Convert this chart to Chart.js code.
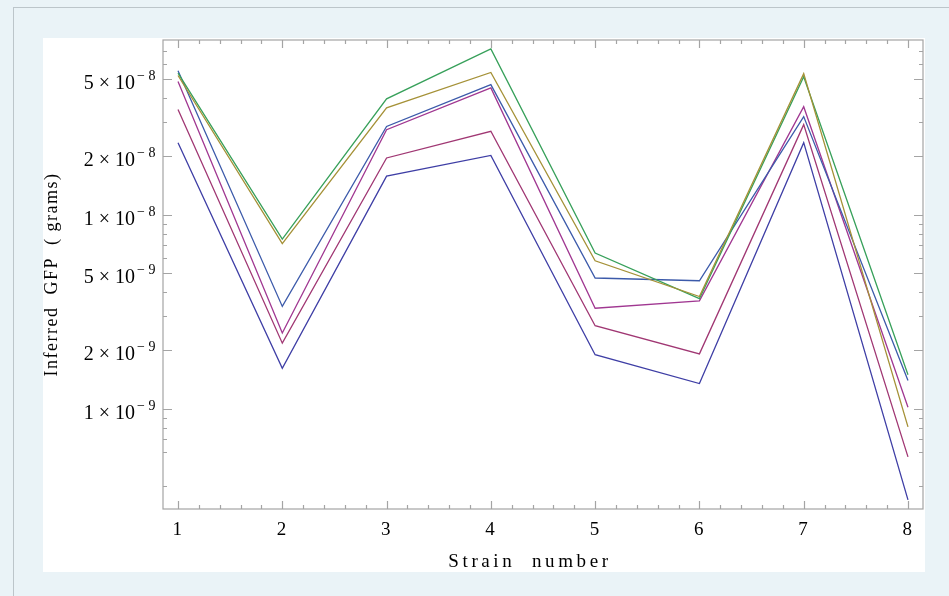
<!DOCTYPE html>
<html>
<head>
<meta charset="utf-8">
<script src="https://cdn.jsdelivr.net/npm/chart.js@4.4.1/dist/chart.umd.min.js"></script>
<style>
    html, body { margin: 0; padding: 0; background: #eaf3f7; overflow: hidden; }
    #frame { position: absolute; left: 13px; top: 7px; width: 1000px; height: 1000px; border-left: 1px solid #bcc5ca; border-top: 1px solid #bcc5ca; }
    #panel { position: absolute; left: 43px; top: 38px; width: 882px; height: 534px; background: #fff; }
    #wrap { position: absolute; left: 43px; top: 38px; width: 882px; height: 560px; }
</style>
</head>
<body>
<div id="frame"></div>
<div id="panel"></div>
<div id="wrap"><canvas id="myChart" width="882" height="560"></canvas></div>
<script>
var strains = [1, 2, 3, 4, 5, 6, 7, 8];

// inferred GFP (grams), one list per curve
var darkBlue = [2.35e-8, 1.62e-9, 1.58e-8, 2.02e-8, 1.90e-9, 1.35e-9, 2.35e-8, 3.40e-10];
var redMagenta = [3.48e-8, 2.18e-9, 1.96e-8, 2.69e-8, 2.68e-9, 1.92e-9, 2.91e-8, 5.66e-10];
var gold = [5.21e-8, 7.09e-9, 3.55e-8, 5.40e-8, 5.79e-9, 3.79e-9, 5.33e-8, 8.08e-10];
var green = [5.36e-8, 7.49e-9, 3.95e-8, 7.15e-8, 6.35e-9, 3.70e-9, 5.14e-8, 1.50e-9];
var blue = [5.52e-8, 3.37e-9, 2.85e-8, 4.68e-8, 4.72e-9, 4.57e-9, 3.20e-8, 1.40e-9];
var purple = [4.85e-8, 2.46e-9, 2.74e-8, 4.50e-8, 3.30e-9, 3.60e-9, 3.60e-8, 1.02e-9];

var yMajor = [1e-9, 2e-9, 5e-9, 1e-8, 2e-8, 5e-8];
var yLabelBase = ['1 \u00d7 10', '2 \u00d7 10', '5 \u00d7 10', '1 \u00d7 10', '2 \u00d7 10', '5 \u00d7 10'];
var yLabelExp = ['\u2212 9', '\u2212 9', '\u2212 9', '\u2212 8', '\u2212 8', '\u2212 8'];
var yMinorMantissa = [3, 4, 6, 7, 8, 9];
var xTitle = 'Strain  number';

var serif = '"Liberation Serif", "Times New Roman", serif';

function makeSeries(values, color) {
    return {
        data: values.map(function(v, i) { return { x: strains[i], y: v }; }),
        borderColor: color,
        borderWidth: 1.3,
        pointRadius: 0,
        tension: 0,
        fill: false
    };
}

var frameTicks = {
    id: 'frameTicks',
    beforeDraw: function(chart) {
        chart.ctx.letterSpacing = '1.5px';
    },
    afterDraw: function(chart) {
        var ctx = chart.ctx,
            a = chart.chartArea,
            xs = chart.scales.x,
            ys = chart.scales.y;

        ctx.save();
        ctx.letterSpacing = '0px';
        ctx.strokeStyle = '#a4a4a4';
        ctx.lineWidth = 1.2;
        ctx.strokeRect(a.left, a.top, a.right - a.left, a.bottom - a.top);

        ctx.beginPath();
        // x ticks, bottom and top, pointing inward
        for (var i = 1; i <= 8; i++) {
            for (var k = 0; k < 5; k++) {
                var v = i + k * 0.2;
                if (v > xs.max) break;
                var px = Math.round(xs.getPixelForValue(v)) + 0.5;
                var len = k === 0 ? 8 : 4;
                ctx.moveTo(px, a.bottom); ctx.lineTo(px, a.bottom - len);
                ctx.moveTo(px, a.top); ctx.lineTo(px, a.top + len);
            }
        }
        // y ticks, left and right
        function yTick(val, len) {
            if (val < ys.min || val > ys.max) return;
            var py = Math.round(ys.getPixelForValue(val)) + 0.5;
            ctx.moveTo(a.left, py); ctx.lineTo(a.left + len, py);
            ctx.moveTo(a.right, py); ctx.lineTo(a.right - len, py);
        }
        yMajor.forEach(function(v) { yTick(v, 9); });
        [1e-10, 1e-9, 1e-8].forEach(function(d) {
            yMinorMantissa.forEach(function(m) { yTick(m * d, 4); });
        });
        ctx.stroke();

        // y tick labels: mantissa x 10 with superscript exponent
        ctx.fillStyle = '#000';
        yMajor.forEach(function(v, i) {
            var py = ys.getPixelForValue(v);
            ctx.textAlign = 'right';
            ctx.textBaseline = 'alphabetic';
            ctx.font = '20px ' + serif;
            ctx.fillText(yLabelBase[i], 92, py + 10);
            ctx.textAlign = 'left';
            ctx.font = '14px ' + serif;
            ctx.fillText(yLabelExp[i], 94, py + 1);
        });

        // x axis title, widely tracked like the original
        ctx.letterSpacing = '3.6px';
        ctx.font = '19px ' + serif;
        ctx.textAlign = 'center';
        ctx.textBaseline = 'middle';
        ctx.fillText(xTitle, 487, 524);
        ctx.restore();
    }
};

var chart = new Chart(document.getElementById('myChart'), {
    type: 'line',
    data: {
        datasets: [
            makeSeries(darkBlue, 'rgb(62, 62, 165)'),
            makeSeries(redMagenta, 'rgb(160, 55, 115)'),
            makeSeries(gold, 'rgb(165, 145, 55)'),
            makeSeries(green, 'rgb(55, 160, 90)'),
            makeSeries(blue, 'rgb(60, 90, 170)'),
            makeSeries(purple, 'rgb(160, 55, 145)')
        ]
    },
    options: {
        responsive: false,
        animation: false,
        layout: { padding: { left: 0, top: 2, right: 2, bottom: 0 } },
        plugins: {
            legend: { display: false },
            tooltip: { enabled: false }
        },
        scales: {
            x: {
                type: 'linear',
                min: 0.856,
                max: 8.144,
                afterBuildTicks: function(scale) {
                    scale.ticks = strains.map(function(v) { return { value: v }; });
                },
                afterFit: function(scale) { scale.height = 89; },
                grid: { display: false, drawTicks: false },
                border: { display: false },
                ticks: {
                    color: '#000',
                    padding: 10,
                    maxRotation: 0,
                    autoSkip: false,
                    font: { family: serif, size: 19 }
                },
                title: { display: false }
            },
            y: {
                type: 'logarithmic',
                min: 3.05e-10,
                max: 7.94e-8,
                afterFit: function(scale) { scale.width = 120; },
                grid: { display: false, drawTicks: false },
                border: { display: false },
                ticks: { display: false },
                title: {
                    display: true,
                    text: 'Inferred  GFP  ( grams)',
                    color: '#000',
                    font: { family: serif, size: 18, lineHeight: 1 },
                    padding: 0
                }
            }
        }
    },
    plugins: [frameTicks]
});
</script>
</body>
</html>
